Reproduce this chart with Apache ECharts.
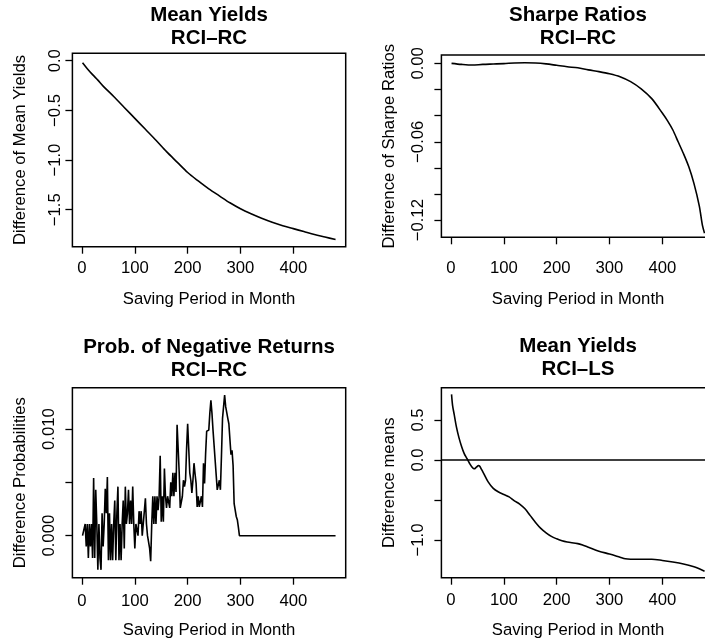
<!DOCTYPE html>
<html>
<head>
<meta charset="utf-8">
<title>RCI differences</title>
<script src="https://cdn.jsdelivr.net/npm/echarts@6/dist/echarts.min.js"></script>
<style>
  html, body { margin: 0; padding: 0; background: #fff; }
  #chart { width: 705px; height: 643px; }
</style>
</head>
<body>
<div id="chart"></div>
<script>
// saving period (months) and the differences
const monthsA = [1, 10, 20, 30, 40, 60, 80, 100, 120, 140, 160, 180, 200, 220, 240, 260, 280, 300, 320, 340, 360, 380, 400, 420, 440, 460, 480];
const meanYieldRC = [-0.02, -0.08, -0.14, -0.195, -0.255, -0.36, -0.47, -0.58, -0.69, -0.80, -0.915, -1.02, -1.125, -1.21, -1.29, -1.36, -1.43, -1.49, -1.54, -1.585, -1.625, -1.66, -1.69, -1.72, -1.75, -1.775, -1.80];

const monthsB = [1, 20, 40, 60, 80, 100, 120, 140, 160, 180, 200, 220, 240, 260, 280, 300, 320, 340, 360, 380, 400, 410, 420, 430, 440, 450, 460, 470, 476, 480];
const sharpeRC = [0, -0.0008, -0.0013, -0.0008, -0.0005, -0.0002, 0.0003, 0.0005, 0.0003, -0.0004, -0.0015, -0.0026, -0.0034, -0.0050, -0.0063, -0.0079, -0.0102, -0.0140, -0.0195, -0.027, -0.038, -0.044, -0.051, -0.060, -0.069, -0.079, -0.092, -0.109, -0.124, -0.130];

const monthsC = [1, 4, 6, 8, 10, 12, 14, 16, 18, 20, 22, 24, 26, 28, 30, 32, 34, 36, 38, 40, 42, 44, 46, 48, 50, 52, 54, 56, 58, 60, 62, 64, 66, 68, 70, 72, 74, 76, 78, 80, 82, 84, 86, 88, 90, 92, 94, 96, 98, 100, 102, 104, 106, 108, 110, 112, 114, 116, 118, 120, 122, 124, 126, 128, 130, 132, 134, 136, 138, 140, 142, 144, 146, 148, 150, 152, 154, 156, 158, 160, 162, 164, 166, 168, 170, 172, 174, 176, 178, 180, 182, 184, 186, 188, 190, 192, 194, 196, 198, 200, 202, 204, 206, 208, 210, 212, 214, 216, 218, 220, 222, 224, 226, 228, 230, 232, 234, 236, 240, 242, 244, 246, 248, 250, 252, 254, 256, 258, 260, 262, 264, 266, 268, 270, 272, 274, 276, 278, 280, 282, 284, 286, 288, 290, 292, 294, 296, 298, 480];
const negProbRC = [0, 0, 0.0011, -0.0010, 0.0011, -0.0021, 0.0011, -0.0010, 0.0011, -0.0021, 0.0054, -0.0021, 0.0043, 0.0011, -0.0032, 0.0011, -0.0021, -0.0032, 0.0021, -0.0010, 0.0011, 0.0044, 0.0021, 0.0055, -0.0023, 0.0021, -0.0023, 0.0011, -0.0023, 0.0011, 0.0033, -0.0023, 0.0021, 0.0046, -0.0023, 0.0011, -0.0023, 0.0011, 0.0033, -0.0012, 0.0046, 0.0011, 0.0021, 0.0043, 0.0011, 0.0033, 0.0011, 0.0046, 0.0011, -0.0012, 0.0011, 0.0011, 0, 0.0023, 0.0011, 0.0023, 0, 0, 0.0023, 0.0035, 0.0011, 0, 0, -0.0012, -0.0024, 0.0011, 0.0037, 0.0011, 0.0037, 0.0011, 0.0037, 0.0024, 0.0037, 0.0075, 0.0013, 0.0037, 0.0013, 0.0063, 0.0037, 0.0026, 0.0037, 0.0037, 0.0026, 0.0050, 0.0037, 0.0059, 0.0037, 0.0059, 0.0041, 0.0104, 0.0082, 0.0059, 0.0026, 0.0026, 0.0037, 0.0052, 0.0046, 0.0052, 0.0082, 0.0105, 0.0082, 0.0059, 0.0052, 0.0040, 0.0052, 0.0068, 0.0058, 0.0049, 0.0027, 0.0037, 0.0027, 0.0027, 0.0037, 0.0027, 0.0068, 0.0049, 0.0077, 0.0098, 0.0099, 0.0115, 0.0127, 0.0115, 0.0099, 0.0099, 0.0071, 0.0057, 0.0043, 0.0043, 0.0052, 0.0043, 0.0075, 0.0110, 0.0121, 0.0132, 0.0121, 0.0121, 0.0110, 0.0105, 0.0104, 0.0076, 0.0080, 0.0066, 0.0030, 0.0030, 0.0018, 0.0015, 0.0008, 0, 0];

const monthsD = [1, 3, 6, 10, 15, 20, 25, 30, 35, 40, 44, 48, 52, 54, 58, 62, 70, 80, 90, 100, 110, 120, 130, 140, 150, 160, 170, 180, 190, 200, 210, 220, 240, 250, 260, 280, 300, 320, 330, 340, 360, 380, 400, 420, 440, 460, 470, 480];
const meanYieldLS = [0.82, 0.68, 0.57, 0.42, 0.28, 0.17, 0.08, 0.02, -0.04, -0.09, -0.11, -0.09, -0.07, -0.075, -0.12, -0.17, -0.27, -0.355, -0.40, -0.43, -0.46, -0.51, -0.55, -0.61, -0.695, -0.78, -0.855, -0.91, -0.955, -0.985, -1.01, -1.025, -1.045, -1.065, -1.09, -1.14, -1.175, -1.215, -1.235, -1.24, -1.24, -1.24, -1.255, -1.275, -1.30, -1.335, -1.36, -1.39];

// tick positions and labels
const xTicks = [0, 100, 200, 300, 400];
const yTicksA = [0, -0.5, -1, -1.5];
const yTicksB = [0, -0.02, -0.04, -0.06, -0.08, -0.10, -0.12];
const yLabelsB = [0, -0.06, -0.12];
const yTicksC = [0, 0.005, 0.010];
const yLabelsC = [0, 0.010];
const yTicksD = [0.5, 0, -0.5, -1];
const yLabelsD = [0.5, 0, -1];

const FONT = '"Liberation Sans", Arial, Helvetica, sans-serif';
const xName = 'Saving Period in Month';

function fmt(d) {
  return function (v) { return v.toFixed(d).replace('-', '\u2212'); };
}
function pairs(xs, ys) {
  return xs.map(function (x, i) { return [x, ys[i]]; });
}

const textBase = { color: '#000', fontFamily: FONT, fontSize: 16.7 };

function xAxisFor(i, labelMargin, nameGap) {
  return {
    gridIndex: i, type: 'value', min: -18.2, max: 499.2,
    splitLine: { show: false },
    axisLine: { show: false, onZero: false },
    axisTick: { show: true, length: 7, customValues: xTicks, lineStyle: { color: '#000', width: 1.3 } },
    axisLabel: Object.assign({ customValues: xTicks, margin: labelMargin }, textBase),
    name: xName, nameLocation: 'middle', nameGap: nameGap,
    nameTextStyle: textBase
  };
}
function yAxisFor(i, min, max, ticks, labels, digits, labelMargin, name, nameGap) {
  return {
    gridIndex: i, type: 'value', min: min, max: max,
    splitLine: { show: false },
    axisLine: { show: false, onZero: false },
    axisTick: { show: true, length: 7, customValues: ticks, lineStyle: { color: '#000', width: 1.3 } },
    axisLabel: Object.assign({ customValues: labels, rotate: 90, margin: labelMargin, formatter: fmt(digits) }, textBase),
    name: name, nameLocation: 'middle', nameGap: nameGap,
    nameTextStyle: textBase
  };
}
function gridAt(left, top, height) {
  return {
    left: left, top: top, width: 273.3, height: height,
    show: true, borderColor: '#000', borderWidth: 1.5, backgroundColor: 'transparent',
    containLabel: false, outerBoundsMode: 'none'
  };
}
function titleAt(text, x, top) {
  return {
    text: text, left: x, top: top, textAlign: 'center', padding: 0,
    textStyle: { fontFamily: FONT, fontSize: 20.5, fontWeight: 'bold', color: '#000', lineHeight: 23 }
  };
}
function lineSeries(i, data, smooth) {
  return {
    type: 'line', xAxisIndex: i, yAxisIndex: i, data: data,
    symbol: 'none', smooth: smooth, clip: true,
    lineStyle: { color: '#000', width: 1.6 }
  };
}

const chart = echarts.init(document.getElementById('chart'), null, { renderer: 'canvas' });

const lsSeries = lineSeries(3, pairs(monthsD, meanYieldLS), 0.3);
lsSeries.markLine = {
  silent: true, symbol: ['none', 'none'], label: { show: false },
  lineStyle: { color: '#000', width: 1.5, type: 'solid' },
  data: [{ yAxis: 0 }]
};

chart.setOption({
  animation: false,
  backgroundColor: '#fff',
  title: [
    titleAt('Mean Yields\nRCI\u2013RC', 209, 4),
    titleAt('Sharpe Ratios\nRCI\u2013RC', 578, 4),
    titleAt('Prob. of Negative Returns\nRCI\u2013RC', 209, 336),
    titleAt('Mean Yields\nRCI\u2013LS', 578, 335)
  ],
  grid: [
    gridAt(72.4, 53.3, 193.4),
    gridAt(441.4, 55, 182.3),
    gridAt(72.4, 387.7, 190),
    gridAt(441.4, 387.7, 190)
  ],
  xAxis: [
    xAxisFor(0, 13.6, 44.6),
    xAxisFor(1, 23, 53.3),
    xAxisFor(2, 15, 44.2),
    xAxisFor(3, 14.2, 44.2)
  ],
  yAxis: [
    yAxisFor(0, -1.872, 0.075, yTicksA, yTicksA, 1, 9, 'Difference of Mean Yields', 44),
    yAxisFor(1, -0.1331, 0.0064, yTicksB, yLabelsB, 2, 15, 'Difference of Sharpe Ratios', 44),
    yAxisFor(2, -0.00394, 0.01388, yTicksC, yLabelsC, 3, 15, 'Difference Probabilities', 44),
    yAxisFor(3, -1.471, 0.904, yTicksD, yLabelsD, 1, 15, 'Difference means', 44)
  ],
  series: [
    lineSeries(0, pairs(monthsA, meanYieldRC), 0.3),
    lineSeries(1, pairs(monthsB, sharpeRC), 0.3),
    lineSeries(2, pairs(monthsC, negProbRC), false),
    lsSeries
  ]
});
</script>
</body>
</html>
